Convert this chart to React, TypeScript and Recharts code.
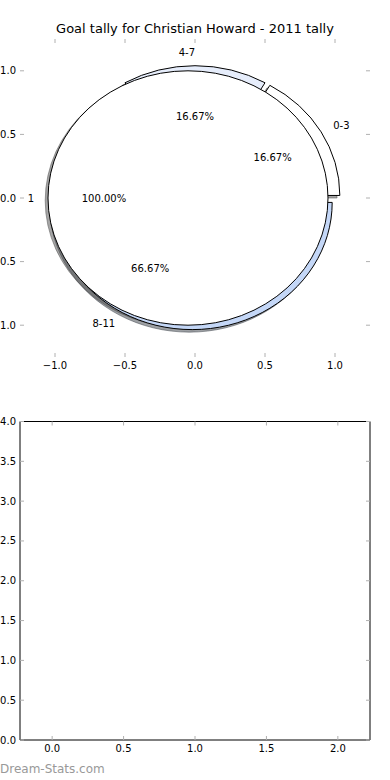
import React from 'react';
import { PieChart, Pie, ScatterChart, Scatter, XAxis, YAxis } from 'recharts';

// outer ring (goal bands) and inner core
const ringLabels = ['0-3', '4-7', '8-11'];
const ringValues = [1, 1, 4];
const ringColors = ['#ffffff', '#e6edfb', '#c4d7f7'];
const coreLabels = ['1'];
const coreValues = [1];
const coreColors = ['#ffffff'];

const pieTicks = [-1, -0.5, 0, 0.5, 1];
const emptyXTicks = [0, 0.5, 1, 1.5, 2];
const emptyYTicks = [0, 0.5, 1, 1.5, 2, 2.5, 3, 3.5, 4];

const ringData = ringLabels.map((name, i) => ({ name, value: ringValues[i], color: ringColors[i] }));
const coreData = coreLabels.map((name, i) => ({ name, value: coreValues[i], color: coreColors[i] }));

const FONT = "'DejaVu Sans', sans-serif";
const CX = 195;
const CY = 198;
const R = 140;
const SY = 127.2 / 140; // axes are not equal-aspect, so the pie is an ellipse
const RING_EXPLODE = 0.04;
const CORE_EXPLODE = 0.05;
const SHADOW = 0.02;
const RAD = Math.PI / 180;

const fmt = (v: number) => (v < 0 ? '\u2212' + Math.abs(v).toFixed(1) : v.toFixed(1));
const blank = () => '';

function darken(hex: string) {
  const n = parseInt(hex.slice(1), 16);
  const r = Math.round(((n >> 16) & 255) * 0.3);
  const g = Math.round(((n >> 8) & 255) * 0.3);
  const b = Math.round((n & 255) * 0.3);
  return `rgb(${r},${g},${b})`;
}

function wedgePath(cx: number, cy: number, r: number, a0: number, a1: number) {
  const rx = r;
  const ry = r * SY;
  const pt = (a: number) => [cx + rx * Math.cos(a * RAD), cy - ry * Math.sin(a * RAD)];
  if (Math.abs(a1 - a0) >= 359.99) {
    const [x0, y0] = pt(a0);
    const [x1, y1] = pt(a0 + 180);
    return `M${x0},${y0} A${rx},${ry} 0 1 0 ${x1},${y1} A${rx},${ry} 0 1 0 ${x0},${y0} Z`;
  }
  const [x0, y0] = pt(a0);
  const [x1, y1] = pt(a1);
  const large = Math.abs(a1 - a0) > 180 ? 1 : 0;
  return `M${cx},${cy} L${x0},${y0} A${rx},${ry} 0 ${large} 0 ${x1},${y1} Z`;
}

const makeWedge = (explode: number, shadow: boolean) => (props: any) => {
  const { cx, cy, outerRadius, startAngle, endAngle, midAngle } = props;
  const base = props.payload?.color ?? props.color ?? '#ffffff';
  let ox = cx + explode * outerRadius * Math.cos(midAngle * RAD);
  let oy = cy - explode * outerRadius * SY * Math.sin(midAngle * RAD);
  if (shadow) {
    ox -= SHADOW * outerRadius;
    oy += SHADOW * outerRadius * SY;
  }
  const fill = shadow ? darken(base) : base;
  return (
    <path
      d={wedgePath(ox, oy, outerRadius, startAngle, endAngle)}
      fill={fill}
      fillOpacity={shadow ? 0.5 : 1}
      stroke={shadow ? fill : '#000'}
      strokeOpacity={shadow ? 0.5 : 1}
      strokeWidth={1}
    />
  );
};

const makeLabels = (explode: number) => (props: any) => {
  const { cx, cy, midAngle, outerRadius, percent } = props;
  const name = props.payload?.name ?? props.name;
  const c = Math.cos(midAngle * RAD);
  const s = Math.sin(midAngle * RAD);
  const ex = cx + explode * outerRadius * c;
  const ey = cy - explode * outerRadius * SY * s;
  const lx = ex + 1.1 * outerRadius * c;
  const ly = ey - 1.1 * outerRadius * SY * s;
  const px = ex + 0.6 * outerRadius * c;
  const py = ey - 0.6 * outerRadius * SY * s;
  return (
    <g>
      <text x={lx} y={ly} textAnchor={lx - cx > 1e-6 ? 'start' : 'end'} dominantBaseline="central"
        fontFamily={FONT} fontSize={10} fill="#000">{name}</text>
      <text x={px} y={py} textAnchor="middle" dominantBaseline="central"
        fontFamily={FONT} fontSize={10} fill="#000">{(percent * 100).toFixed(2)}%</text>
    </g>
  );
};

const tickFont = { fontFamily: FONT, fontSize: 10, fill: '#000' };
const tickLine = { stroke: '#b0b0b0', strokeWidth: 1 };

export default function App() {
  return (
    <div style={{ position: 'absolute', left: 0, top: 0, width: 390, height: 780, background: '#fff', overflow: 'hidden' }}>
      <div style={{ position: 'absolute', left: 0, top: 21, width: 390, textAlign: 'center', fontFamily: FONT, fontSize: 13, lineHeight: '15px', color: '#000' }}>
        Goal tally for Christian Howard - 2011 tally
      </div>

      <div style={{ position: 'absolute', left: 0, top: 0 }}>
        <ScatterChart width={390} height={390} margin={{ top: 38, right: 19, bottom: 0, left: 0 }}>
          <XAxis type="number" dataKey="x" domain={[-1.25, 1.25]} ticks={pieTicks} allowDataOverflow
            height={33} axisLine={false} tickLine={tickLine} tickSize={-4} tickMargin={8.5}
            tick={tickFont} tickFormatter={fmt} interval={0} />
          <XAxis xAxisId="t" orientation="top" type="number" dataKey="x" domain={[-1.25, 1.25]} ticks={pieTicks} allowDataOverflow
            height={1} axisLine={false} tickLine={tickLine} tickSize={-4} tick={tickFont} tickFormatter={blank} interval={0} />
          <YAxis type="number" dataKey="y" domain={[-1.25, 1.25]} ticks={pieTicks} allowDataOverflow
            width={20} axisLine={false} tickLine={tickLine} tickSize={-4} tickMargin={8}
            tick={tickFont} tickFormatter={fmt} interval={0} />
          <YAxis yAxisId="r" orientation="right" type="number" dataKey="y" domain={[-1.25, 1.25]} ticks={pieTicks} allowDataOverflow
            width={1} axisLine={false} tickLine={tickLine} tickSize={-4} tick={tickFont} tickFormatter={blank} interval={0} />
          <Scatter data={[]} isAnimationActive={false} />
          <Scatter data={[]} xAxisId="t" yAxisId="r" isAnimationActive={false} />
        </ScatterChart>
      </div>

      <div style={{ position: 'absolute', left: 0, top: 0 }}>
        <PieChart width={390} height={390} margin={{ top: 0, right: 0, bottom: 0, left: 0 }}>
          <Pie data={ringData} dataKey="value" nameKey="name" cx={CX} cy={CY} outerRadius={R}
            startAngle={0} endAngle={360} shape={makeWedge(RING_EXPLODE, true)}
            isAnimationActive={false} />
          <Pie data={coreData} dataKey="value" nameKey="name" cx={CX} cy={CY} outerRadius={R}
            startAngle={0} endAngle={360} shape={makeWedge(CORE_EXPLODE, true)}
            isAnimationActive={false} />
          <Pie data={ringData} dataKey="value" nameKey="name" cx={CX} cy={CY} outerRadius={R}
            startAngle={0} endAngle={360} shape={makeWedge(RING_EXPLODE, false)}
            isAnimationActive={false} />
          <Pie data={coreData} dataKey="value" nameKey="name" cx={CX} cy={CY} outerRadius={R}
            startAngle={0} endAngle={360} shape={makeWedge(CORE_EXPLODE, false)}
            label={makeLabels(CORE_EXPLODE)} labelLine={false}
            isAnimationActive={false} />
          <Pie data={ringData} dataKey="value" nameKey="name" cx={CX} cy={CY} outerRadius={R}
            startAngle={0} endAngle={360} fill="none" stroke="none" shape={() => <g />}
            label={makeLabels(RING_EXPLODE)} labelLine={false}
            isAnimationActive={false} />
        </PieChart>
      </div>

      <div style={{ position: 'absolute', left: 0, top: 390 }}>
        <ScatterChart width={390} height={390} margin={{ top: 30.5, right: 19, bottom: 0, left: 0 }}>
          <XAxis type="number" dataKey="x" domain={[-0.225, 2.225]} ticks={emptyXTicks} allowDataOverflow
            height={40} axisLine={{ stroke: '#000' }} tickLine={tickLine} tickSize={-4} tickMargin={9}
            tick={tickFont} tickFormatter={fmt} interval={0} />
          <XAxis xAxisId="t" orientation="top" type="number" dataKey="x" domain={[-0.225, 2.225]} ticks={emptyXTicks} allowDataOverflow
            height={1} axisLine={{ stroke: '#000' }} tickLine={tickLine} tickSize={-4} tick={tickFont} tickFormatter={blank} interval={0} />
          <YAxis type="number" dataKey="y" domain={[0, 4]} ticks={emptyYTicks} allowDataOverflow
            width={20} axisLine={{ stroke: '#000' }} tickLine={tickLine} tickSize={-4} tickMargin={8}
            tick={tickFont} tickFormatter={fmt} interval={0} />
          <YAxis yAxisId="r" orientation="right" type="number" dataKey="y" domain={[0, 4]} ticks={emptyYTicks} allowDataOverflow
            width={1} axisLine={{ stroke: '#000' }} tickLine={tickLine} tickSize={-4} tick={tickFont} tickFormatter={blank} interval={0} />
          <Scatter data={[]} isAnimationActive={false} />
          <Scatter data={[]} xAxisId="t" yAxisId="r" isAnimationActive={false} />
        </ScatterChart>
      </div>

      <div style={{ position: 'absolute', left: 0, top: 762, fontFamily: FONT, fontSize: 12, lineHeight: '14px', color: '#999' }}>
        Dream-Stats.com
      </div>
    </div>
  );
}
